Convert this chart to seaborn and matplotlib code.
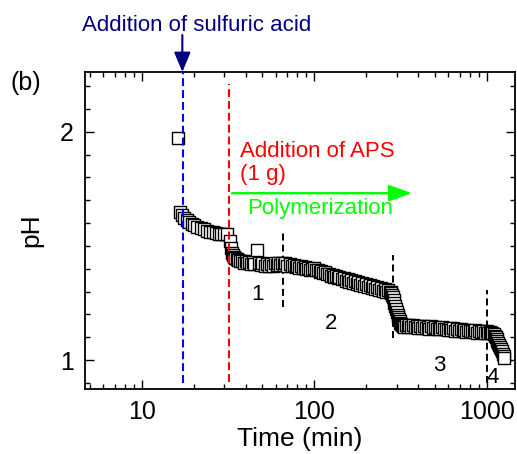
import matplotlib
matplotlib.use("Agg")
import matplotlib.pyplot as plt
import seaborn as sns
import pandas as pd
from matplotlib.ticker import LogLocator, NullFormatter, MultipleLocator

# pH record (time in minutes)
time_before = [16.3, 16.7, 17.2, 17.6, 18.2, 18.8, 19.5, 20.2, 21, 22, 23, 24, 25, 26, 27, 28, 29, 30, 31.2]
ph_before = [1.972, 1.648, 1.635, 1.624, 1.612, 1.604, 1.596, 1.590, 1.583, 1.577, 1.572, 1.567, 1.563,
             1.559, 1.555, 1.553, 1.552, 1.551, 1.552]

time_stage1 = [32.4, 32.8, 33.2, 33.7, 34.2, 34.8, 35.5, 36, 37, 38, 39, 40, 41, 42, 43, 44, 45, 46.9,
               48, 49, 50, 51.5, 53, 54.5, 56, 57.5, 59, 60.5, 62, 63.5, 65, 66.5, 68, 70, 72, 74, 76,
               78, 80, 82, 84, 86, 88, 90, 92.5, 95, 97.5]
ph_stage1 = [1.520, 1.490, 1.470, 1.458, 1.450, 1.445, 1.441, 1.440, 1.432, 1.436, 1.427, 1.433, 1.424,
             1.430, 1.421, 1.428, 1.419, 1.480, 1.425, 1.416, 1.423, 1.414, 1.422, 1.413, 1.421, 1.414,
             1.423, 1.415, 1.426, 1.417, 1.426, 1.416, 1.424, 1.414, 1.421, 1.411, 1.418, 1.408, 1.414,
             1.404, 1.411, 1.401, 1.407, 1.397, 1.404, 1.394, 1.400]

time_stage2 = [100, 102.5, 105, 107.5, 110, 113, 116, 119, 122, 125, 128, 131, 134, 137, 140, 144, 148,
               152, 156, 160, 164, 168, 172, 176, 180, 185, 190, 195, 200, 205, 210, 215, 220, 226, 232,
               238, 244, 250, 256, 262, 268, 274]
ph_stage2 = [1.402, 1.393, 1.396, 1.387, 1.391, 1.381, 1.385, 1.375, 1.379, 1.369, 1.374, 1.364, 1.368,
             1.358, 1.364, 1.353, 1.358, 1.348, 1.354, 1.344, 1.349, 1.339, 1.345, 1.335, 1.341, 1.330,
             1.336, 1.326, 1.331, 1.321, 1.327, 1.317, 1.323, 1.313, 1.319, 1.308, 1.314, 1.304, 1.310,
             1.300, 1.306, 1.298]

time_drop2 = [277, 280, 283, 286, 289, 292, 295, 298, 301, 304, 307, 310, 313, 316, 320, 324, 328, 333]
ph_drop2 = [1.297, 1.292, 1.284, 1.274, 1.262, 1.250, 1.237, 1.224, 1.211, 1.199, 1.188, 1.178, 1.170,
            1.163, 1.158, 1.155, 1.150, 1.145]

time_stage3 = [340, 348, 356, 365, 374, 383, 392, 402, 412, 422, 432, 443, 454, 465, 477, 489, 501, 513,
               526, 539, 553, 567, 581, 595, 610, 625, 641, 657, 673, 690, 707, 725, 743, 762, 781, 800,
               820, 840, 861, 883, 905, 927, 950, 974, 998, 1020, 1040, 1060]
ph_stage3 = [1.155, 1.146, 1.152, 1.144, 1.153, 1.146, 1.150, 1.141, 1.150, 1.142, 1.149, 1.140, 1.145,
             1.137, 1.147, 1.139, 1.144, 1.135, 1.142, 1.134, 1.143, 1.134, 1.138, 1.131, 1.139, 1.131,
             1.139, 1.129, 1.134, 1.127, 1.135, 1.128, 1.133, 1.124, 1.133, 1.125, 1.129, 1.122, 1.130,
             1.120, 1.127, 1.121, 1.127, 1.118, 1.125, 1.119, 1.123, 1.120]

time_stage4 = [1080, 1095, 1110, 1125, 1140, 1155, 1170, 1185, 1200, 1215, 1230, 1245, 1257, 1268]
ph_stage4 = [1.117, 1.112, 1.106, 1.099, 1.091, 1.083, 1.075, 1.066, 1.057, 1.048, 1.038, 1.028, 1.018, 1.007]

df = pd.DataFrame({
    "time": time_before + time_stage1 + time_stage2 + time_drop2 + time_stage3 + time_stage4,
    "pH": ph_before + ph_stage1 + ph_stage2 + ph_drop2 + ph_stage3 + ph_stage4,
})

sns.set_theme(style="ticks")
plt.rcParams["font.family"] = ["Liberation Sans", "DejaVu Sans"]
plt.rcParams["text.color"] = "black"
plt.rcParams["axes.labelcolor"] = "black"

W, H = 517, 454
fig = plt.figure(figsize=(W / 100, H / 100), dpi=100)
ax = fig.add_axes([85 / W, 1 - 389 / H, (515 - 85) / W, (389 - 72) / H])

sns.scatterplot(data=df, x="time", y="pH", ax=ax, marker="s", s=64, color="white",
                edgecolor="black", linewidth=1.0, legend=False, zorder=2)

# stage boundaries
for xb, y0, y1 in [(66, 1.232, 1.556), (286, 1.096, 1.46), (1004, 0.90, 1.307)]:
    ax.plot([xb, xb], [y0, y1], color="black", lw=1.4, ls=(0, (3.6, 2.1)), zorder=1)

ax.plot([17.4, 17.4], [0.899, 2.262], color="#0000ff", lw=1.5, ls=(0, (3.8, 1.9)), zorder=3)
ax.plot([32.1, 32.1], [0.904, 2.209], color="#ff0000", lw=1.5, ls=(0, (3.8, 1.9)), zorder=3)

ax.set_xscale("log")
ax.set_xlim(4.69, 1459)
ax.set_ylim(0.873, 2.262)
ax.set_xticks([10, 100, 1000], labels=["10", "100", "1000"])
ax.xaxis.set_minor_locator(LogLocator(base=10, subs=range(2, 10)))
ax.xaxis.set_minor_formatter(NullFormatter())
ax.yaxis.set_major_locator(MultipleLocator(1))
ax.yaxis.set_minor_locator(MultipleLocator(0.1))
ax.set_yticks([1, 2], labels=["1", "2"])

ax.tick_params(which="both", direction="in", top=True, right=True, width=1.0,
               color="black", labelcolor="black")
ax.tick_params(which="major", length=6.5, labelsize=18, pad=8)
ax.tick_params(which="minor", length=3.5)
for sp in ax.spines.values():
    sp.set_linewidth(1.3)
    sp.set_color("black")

ax.set_xlabel("Time (min)", fontsize=19, labelpad=2)
ax.set_ylabel("pH", fontsize=19, labelpad=12)

# annotations
fig.text(82 / W, 1 - 31 / H, "Addition of sulfuric acid", color="#000080", fontsize=16, va="baseline")
ax.annotate("", xy=(17.2, 1.0), xycoords=("data", "axes fraction"),
            xytext=(17.2, 1 + 37 / 317), textcoords=("data", "axes fraction"),
            arrowprops=dict(arrowstyle="-|>,head_length=1.2,head_width=0.5", mutation_scale=10,
                            color="#000080", lw=1.5, shrinkA=0, shrinkB=0))
fig.text(10 / W, 1 - 90 / H, "(b)", fontsize=18, va="baseline")

ax.text(37.2, 1.891, "Addition of APS", color="#ff0000", fontsize=16, va="baseline")
ax.text(37.2, 1.788, "(1 g)", color="#ff0000", fontsize=16, va="baseline")
ax.annotate("", xy=(369, 1.731), xytext=(33.4, 1.731),
            arrowprops=dict(arrowstyle="-|>,head_length=1.4,head_width=0.5", mutation_scale=10,
                            color="#00ff00", lw=1.7, shrinkA=0, shrinkB=0))
ax.text(40.6, 1.6395, "Polymerization", color="#00ff00", fontsize=16, va="baseline")

for lab, xt, yt in [("1", 46.9, 1.263), ("2", 125, 1.136), ("3", 529, 0.952), ("4", 1088, 0.899)]:
    ax.text(xt, yt, lab, fontsize=16, ha="center", va="baseline", color="black")

fig.savefig("out.png", dpi=100)
